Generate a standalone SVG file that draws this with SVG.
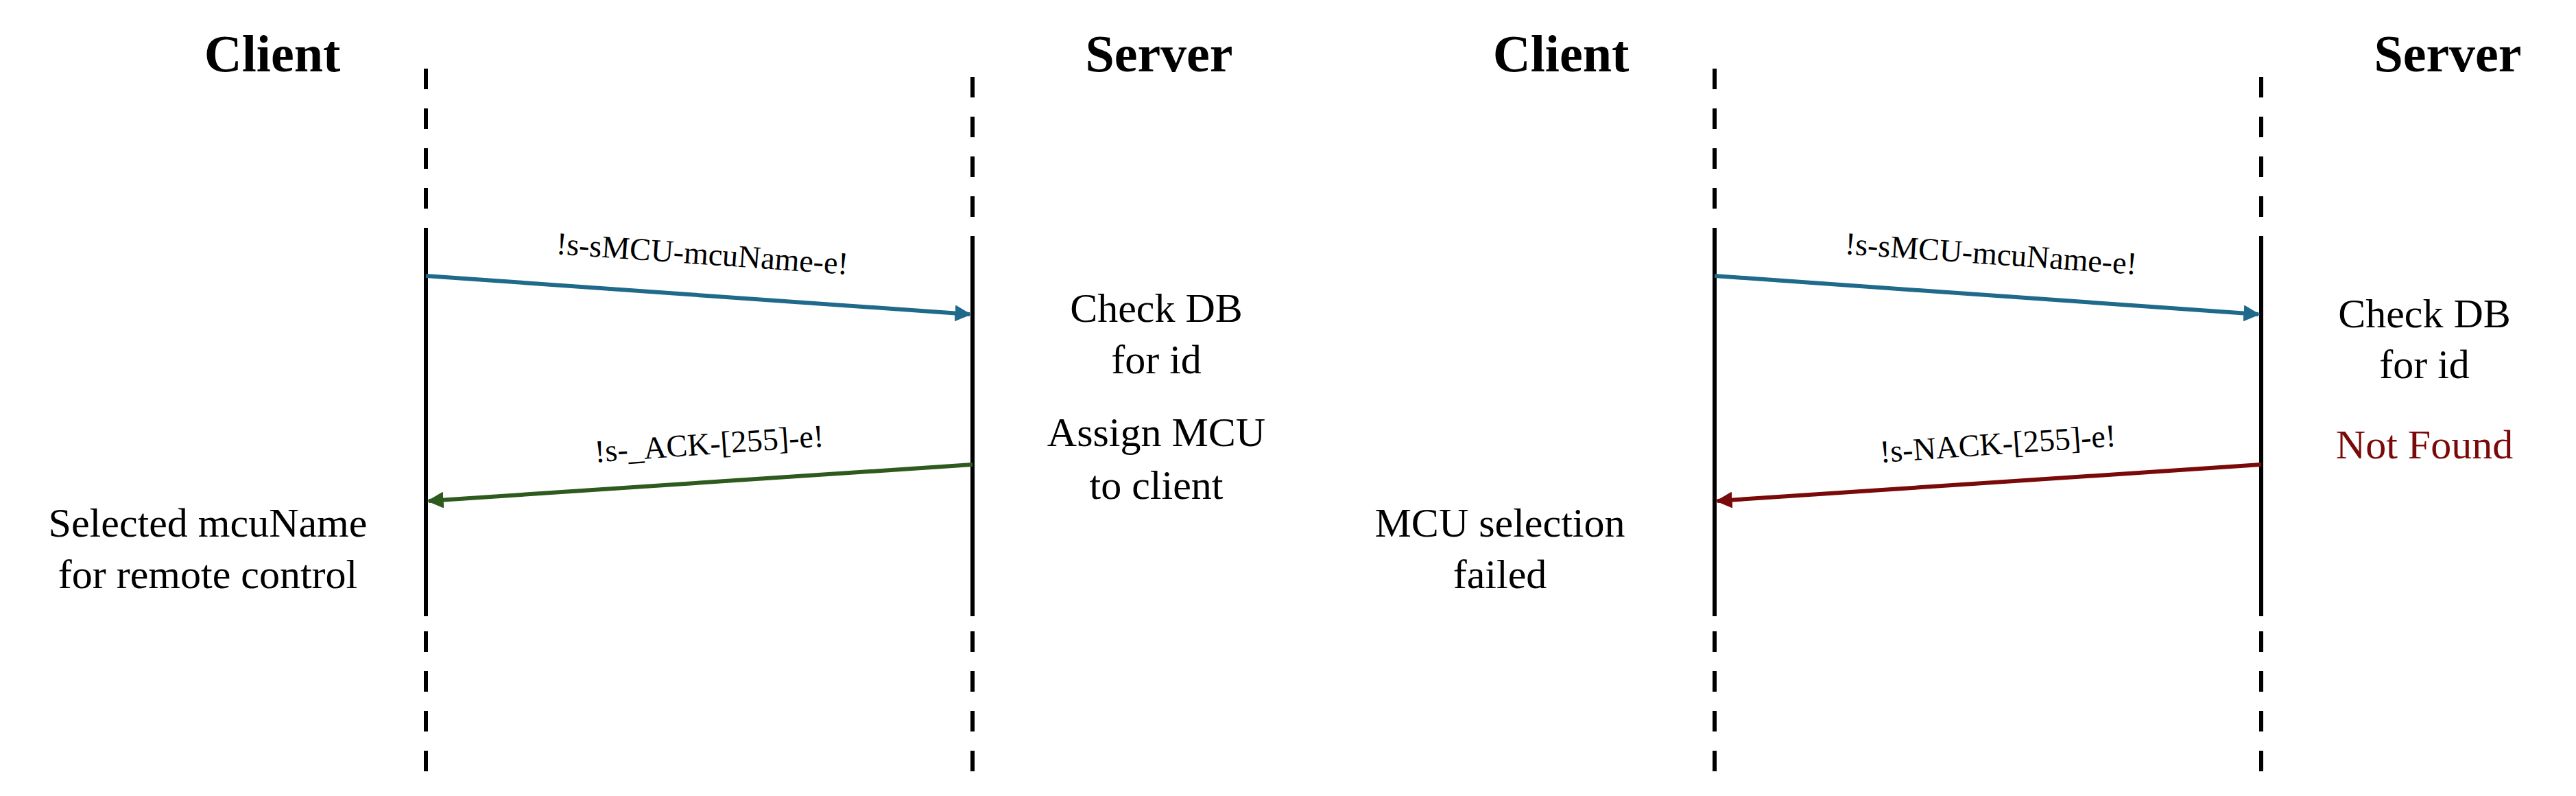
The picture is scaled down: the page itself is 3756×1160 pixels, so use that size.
<svg xmlns="http://www.w3.org/2000/svg" width="3756" height="1160" viewBox="0 0 3756 1160">
<style>
text{font-family:"Liberation Serif","Times New Roman",serif;text-anchor:middle;fill:#000}
.t{font-size:76px;font-weight:bold}
.n{font-size:60px}
.m{font-size:46px}
.d{stroke:#000;stroke-width:6;stroke-dasharray:30,28;fill:none}
.s{stroke:#000;stroke-width:6;fill:none}
</style>
<defs>
<marker id="ab" viewBox="0 0 10 10" refX="9" refY="5" markerWidth="4" markerHeight="4" orient="auto"><path d="M0,0L10,5L0,10z" fill="#1f6a8a"/></marker>
<marker id="ag" viewBox="0 0 10 10" refX="9" refY="5" markerWidth="4" markerHeight="4" orient="auto"><path d="M0,0L10,5L0,10z" fill="#2e5a1e"/></marker>
<marker id="ar" viewBox="0 0 10 10" refX="9" refY="5" markerWidth="4" markerHeight="4" orient="auto"><path d="M0,0L10,5L0,10z" fill="#7a0a0a"/></marker>
</defs>
<g id="client1"><text class="t" x="397" y="104">Client</text>
<line class="d" x1="621" y1="100" x2="621" y2="356"/><line class="s" x1="621" y1="356" x2="621" y2="898"/><line class="d" x1="621" y1="920" x2="621" y2="1144"/>
<text class="n" x="303" y="782">Selected mcuName</text><text class="n" x="303" y="857">for remote control</text></g>
<g id="server1"><text class="t" x="1690" y="104">Server</text>
<line class="d" x1="1418" y1="112" x2="1418" y2="356"/><line class="s" x1="1418" y1="356" x2="1418" y2="898"/><line class="d" x1="1418" y1="920" x2="1418" y2="1144"/>
<text class="n" x="1686" y="469">Check DB</text><text class="n" x="1686" y="544">for id</text>
<text class="n" x="1686" y="650">Assign MCU</text><text class="n" x="1686" y="727">to client</text></g>
<g id="client2"><text class="t" x="2276" y="104">Client</text>
<line class="d" x1="2500" y1="100" x2="2500" y2="356"/><line class="s" x1="2500" y1="356" x2="2500" y2="898"/><line class="d" x1="2500" y1="920" x2="2500" y2="1144"/>
<text class="n" x="2187" y="782">MCU selection</text><text class="n" x="2187" y="857">failed</text></g>
<g id="server2"><text class="t" x="3569" y="104">Server</text>
<line class="d" x1="3297" y1="112" x2="3297" y2="356"/><line class="s" x1="3297" y1="356" x2="3297" y2="898"/><line class="d" x1="3297" y1="920" x2="3297" y2="1144"/>
<text class="n" x="3535" y="477">Check DB</text><text class="n" x="3535" y="551">for id</text>
<text class="n" x="3535" y="668" style="fill:#7a0a0a">Not Found</text></g>
<g id="connectors">
<line x1="621" y1="402" x2="1414" y2="458" stroke="#1f6a8a" stroke-width="6" marker-end="url(#ab)"/>
<line x1="1418" y1="677" x2="625" y2="730" stroke="#2e5a1e" stroke-width="6" marker-end="url(#ag)"/>
<line x1="2500" y1="402" x2="3293" y2="458" stroke="#1f6a8a" stroke-width="6" marker-end="url(#ab)"/>
<line x1="3297" y1="677" x2="2504" y2="730" stroke="#7a0a0a" stroke-width="6" marker-end="url(#ar)"/>
<text class="m" x="1023" y="385" transform="rotate(4 1023 385)">!s-sMCU-mcuName-e!</text>
<text class="m" x="1035" y="662" transform="rotate(-4 1035 662)">!s-_ACK-[255]-e!</text>
<text class="m" x="2902" y="385" transform="rotate(4 2902 385)">!s-sMCU-mcuName-e!</text>
<text class="m" x="2914" y="662" transform="rotate(-4 2914 662)">!s-NACK-[255]-e!</text>
</g>
</svg>
